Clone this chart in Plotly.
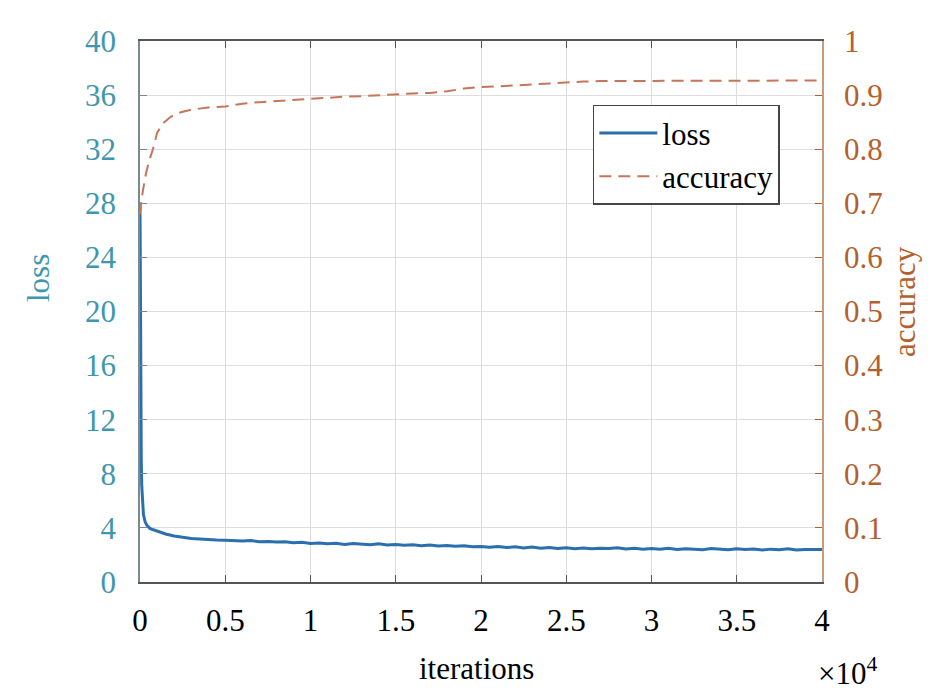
import plotly.graph_objects as go

# loss curve (iterations, value)
loss_iter = [0, 15, 30, 50, 75, 100, 150, 200, 300, 400, 600, 800, 1000, 1500,
             2000, 2500, 3000, 3500, 4000, 4500,
             5000, 5500, 6000, 6500, 7000, 7500, 8000, 8500, 9000, 9500,
             10000, 10500, 11000, 11500, 12000, 12500, 13000, 13500, 14000, 14500,
             15000, 15500, 16000, 16500, 17000, 17500, 18000, 18500, 19000, 19500,
             20000, 20500, 21000, 21500, 22000, 22500, 23000, 23500, 24000, 24500,
             25000, 25500, 26000, 26500, 27000, 27500, 28000, 28500, 29000, 29500,
             30000, 30500, 31000, 31500, 32000, 32500, 33000, 33500, 34000, 34500,
             35000, 35500, 36000, 36500, 37000, 37500, 38000, 38500, 39000, 39500,
             40000]
loss_val = [28.0, 22.0, 16.5, 12.0, 9.0, 7.2, 5.8, 5.0, 4.45, 4.2, 3.95, 3.85, 3.75, 3.55,
            3.4, 3.3, 3.22, 3.18, 3.12, 3.1,
            3.08, 3.05, 3.04, 3.07, 2.98, 3.0, 2.95, 2.97, 2.9, 2.93,
            2.85, 2.88, 2.82, 2.86, 2.78, 2.84, 2.8, 2.76, 2.82, 2.74,
            2.77, 2.72, 2.75, 2.68, 2.73, 2.66, 2.7, 2.64, 2.68, 2.6,
            2.63, 2.57, 2.62, 2.55, 2.6, 2.52, 2.58, 2.5, 2.55, 2.48,
            2.53, 2.46, 2.52, 2.45, 2.5, 2.47, 2.53, 2.44, 2.49, 2.42,
            2.48, 2.43, 2.5, 2.41, 2.46, 2.44, 2.39, 2.47, 2.42, 2.38,
            2.45, 2.4, 2.44, 2.37, 2.43, 2.39, 2.45, 2.36, 2.41, 2.38,
            2.4]

# accuracy curve (iterations, value)
acc_iter = [0, 60, 180, 350, 550, 760, 1000, 1350, 1800, 2350, 3000, 4000,
            5000, 6000, 7000, 8000, 9000, 10000, 11000, 12000, 13000, 14000,
            15000, 16000, 17000, 18000, 19000, 20000, 21000, 22000, 23000,
            24000, 25000, 26000, 27000, 28000, 30000, 32000, 34000, 36000,
            38000, 40000]
acc_val = [0.68, 0.70, 0.725, 0.755, 0.78, 0.80, 0.83, 0.848, 0.86, 0.868, 0.873, 0.877,
           0.879, 0.884, 0.887, 0.889, 0.891, 0.894, 0.895, 0.897, 0.898, 0.9,
           0.902, 0.903, 0.904, 0.907, 0.912, 0.915, 0.916, 0.918, 0.92,
           0.921, 0.923, 0.925, 0.926, 0.926, 0.927, 0.926, 0.927, 0.927,
           0.926, 0.927]

x_ticks = [0, 5000, 10000, 15000, 20000, 25000, 30000, 35000, 40000]
x_tick_text = ["0", "0.5", "1", "1.5", "2", "2.5", "3", "3.5", "4"]
loss_ticks = list(range(0, 41, 4))
acc_ticks = [i / 10 for i in range(11)]
acc_tick_text = ["0", "0.1", "0.2", "0.3", "0.4", "0.5", "0.6", "0.7", "0.8", "0.9", "1"]

LEFT_COLOR = "#3f97ae"
RIGHT_COLOR = "#b5602c"
FONT = "Liberation Serif"
FS = 31

fig = go.Figure()

fig.add_trace(
    go.Scatter(
        x=loss_iter,
        y=loss_val,
        mode="lines",
        name="loss",
        line=dict(color="#2b6fae", width=3),
        yaxis="y",
    )
)

fig.add_trace(
    go.Scatter(
        x=acc_iter,
        y=acc_val,
        mode="lines",
        name="accuracy",
        line=dict(color="#c7755a", width=2, dash="12px,7px"),
        yaxis="y2",
    )
)

# page body has an 8px margin, so the figure is a bit smaller than the window
fig.update_layout(
    width=937,
    height=685,
    margin=dict(l=132, r=123, t=33, b=111),
    paper_bgcolor="white",
    plot_bgcolor="white",
    font=dict(family=FONT, size=FS, color="black"),
    showlegend=True,
    xaxis=dict(
        range=[0, 40000],
        tickvals=x_ticks,
        ticktext=x_tick_text,
        ticks="inside",
        ticklen=7,
        tickcolor="#555555",
        showline=True,
        linecolor="#555555",
        linewidth=1.5,
        mirror="ticks",
        showgrid=True,
        gridcolor="#dddddd",
        zeroline=False,
        ticklabelstandoff=10,
    ),
    yaxis=dict(
        range=[0, 40],
        tickvals=loss_ticks,
        ticks="inside",
        ticklen=7,
        tickcolor="#7a8a90",
        showline=True,
        linecolor="#7a8a90",
        linewidth=1.5,
        showgrid=True,
        gridcolor="#dddddd",
        zeroline=False,
        tickfont=dict(color=LEFT_COLOR, size=FS),
        ticklabelstandoff=16,
    ),
    yaxis2=dict(
        range=[0, 1],
        tickvals=acc_ticks,
        ticktext=acc_tick_text,
        overlaying="y",
        side="right",
        ticks="inside",
        ticklen=7,
        tickcolor=RIGHT_COLOR,
        showline=True,
        linecolor="#c89a80",
        linewidth=1.5,
        showgrid=False,
        zeroline=False,
        tickfont=dict(color=RIGHT_COLOR, size=FS),
        ticklabelstandoff=14,
    ),
    legend=dict(
        x=0.664,
        y=0.882,
        xanchor="left",
        yanchor="top",
        bgcolor="white",
        bordercolor="#444444",
        borderwidth=1.5,
        font=dict(family=FONT, size=FS),
        tracegroupgap=0,
        itemwidth=58,
    ),
)

# axis titles and the exponent label
labels = [
    ("iterations", 0.493, -0.159, 0, "black"),
    ("×10<sup>4</sup>", 1.038, -0.166, 0, "black"),
    ("loss", -0.148, 0.562, -90, LEFT_COLOR),
    ("accuracy", 1.122, 0.518, -90, RIGHT_COLOR),
]
for text, lx, ly, angle, color in labels:
    fig.add_annotation(
        text=text,
        xref="paper",
        yref="paper",
        x=lx,
        y=ly,
        xanchor="center",
        yanchor="middle",
        textangle=angle,
        showarrow=False,
        font=dict(family=FONT, size=FS, color=color),
    )

fig.write_html("out.html")
